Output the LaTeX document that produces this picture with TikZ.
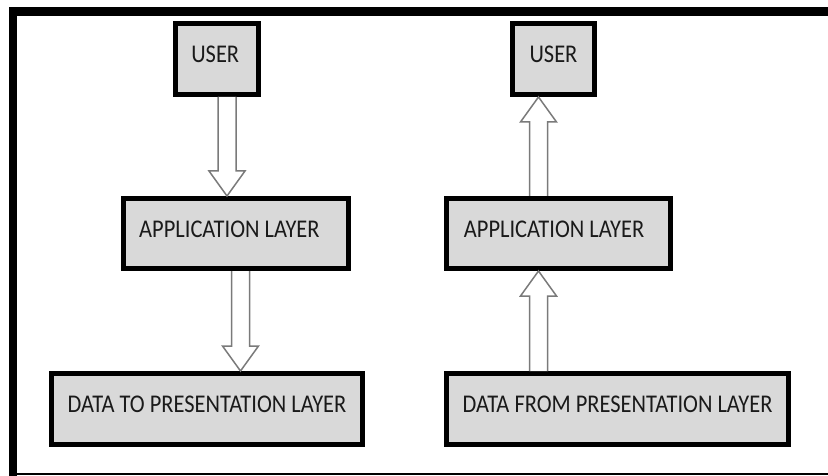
\documentclass[tikz,border=0pt]{standalone}
\usepackage{fontspec}
\setmainfont{Carlito}
\usetikzlibrary{calc}
\definecolor{boxgray}{HTML}{D9D9D9}
\definecolor{arrgray}{HTML}{7A7A7A}
\definecolor{textgray}{HTML}{1A1A1A}
\newcommand{\lbl}[2][0pt]{\scalebox{0.88}[1]{\raisebox{-3.5pt}[0pt][0pt]{#2}\kern#1}}
% hollow block arrows, x taken from the start, tip at the end
\newcommand{\arrdown}[2]{%
  \draw[blockarr] let \p1=(#1), \p2=(#2) in
    (\x1-9pt,\y1) -- (\x1-9pt,\y2+25pt) -- (\x1-18pt,\y2+25pt) -- (\x1,\y2)
    -- (\x1+18pt,\y2+25pt) -- (\x1+9pt,\y2+25pt) -- (\x1+9pt,\y1);}
\newcommand{\arrup}[2]{%
  \draw[blockarr] let \p1=(#1), \p2=(#2) in
    (\x1-9pt,\y1) -- (\x1-9pt,\y2-25pt) -- (\x1-18pt,\y2-25pt) -- (\x1,\y2)
    -- (\x1+18pt,\y2-25pt) -- (\x1+9pt,\y2-25pt) -- (\x1+9pt,\y1);}

\begin{document}
\begin{tikzpicture}[x=1pt,y=-1pt,
    layerbox/.style={draw=black,line width=5pt,fill=boxgray,inner sep=0pt,
                     text=textgray,font=\fontsize{25.5}{27}\selectfont},
    blockarr/.style={draw=arrgray,line width=1.5pt,fill=white,line join=miter}]

  \useasboundingbox (0,0) rectangle (828,476);

  % frame
  \draw[line width=8.5pt] (828,11.5) -- (13,11.5) -- (13,476);
  \draw[line width=1.5pt] (13,474) -- (828,474);

  % sending side
  \node[layerbox,minimum width=83pt,minimum height=71pt] (user1) at (217,59)
       {\lbl[4pt]{USER}};
  \node[layerbox,minimum width=225pt,minimum height=70pt] (app1) at (236,233.5)
       {\lbl[15pt]{APPLICATION LAYER}};
  \node[layerbox,minimum width=311pt,minimum height=71pt] (data1) at (207,409)
       {\lbl{DATA TO PRESENTATION LAYER}};

  \arrdown{[xshift=10pt]user1.south}{app1.north}
  \arrdown{[xshift=4.5pt]app1.south}{data1.north}

  % receiving side
  \node[layerbox,minimum width=82pt,minimum height=71pt] (user2) at (553.5,59)
       {\lbl{USER}};
  \node[layerbox,minimum width=224pt,minimum height=70pt] (app2) at (558.5,233.5)
       {\lbl[10pt]{APPLICATION LAYER}};
  \node[layerbox,minimum width=342pt,minimum height=71pt] (data2) at (617.5,409)
       {\lbl{DATA FROM PRESENTATION LAYER}};

  \arrup{[xshift=-20pt]app2.north}{user2.south}
  \arrup{[xshift=-79pt]data2.north}{app2.south}

\end{tikzpicture}
\end{document}
